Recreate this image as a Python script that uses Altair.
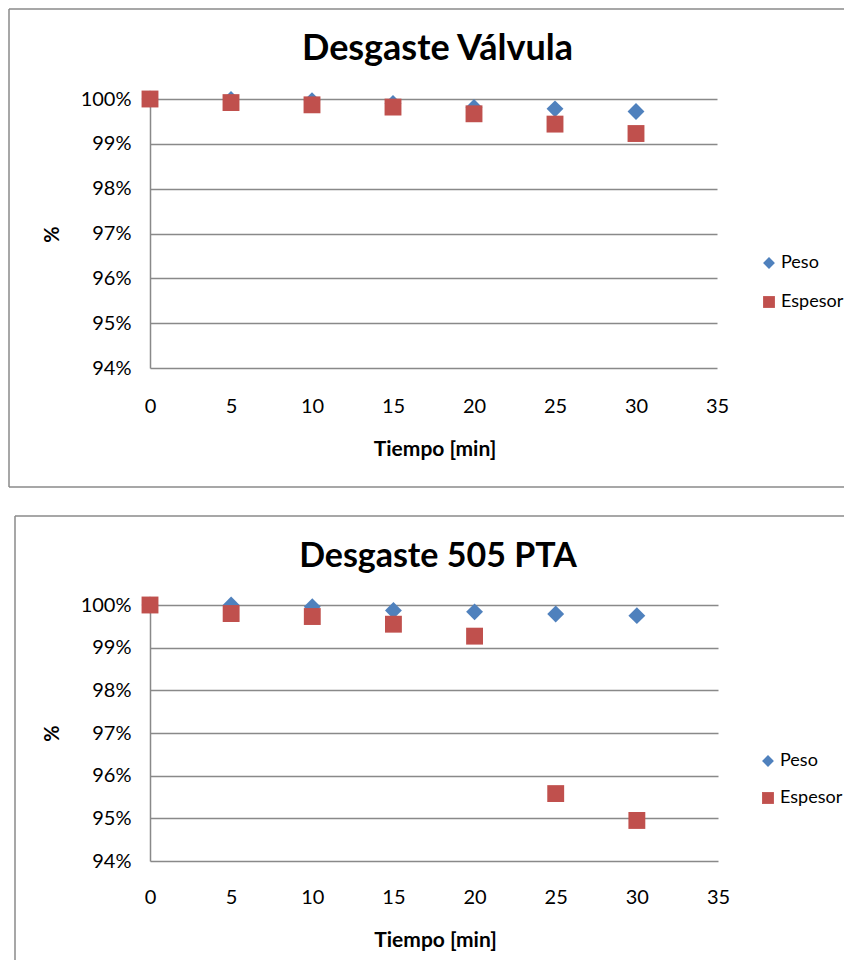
import altair as alt
import pandas as pd

# ---- data ----
tiempo = [0, 5, 10, 15, 20, 25, 30]
series = ["Peso", "Espesor"]

valvula_peso = [100.0, 99.99, 99.96, 99.90, 99.81, 99.78, 99.72]
valvula_espesor = [100.0, 99.92, 99.87, 99.82, 99.67, 99.44, 99.23]

pta_peso = [100.0, 100.0, 99.96, 99.87, 99.84, 99.79, 99.75]
pta_espesor = [100.0, 99.80, 99.73, 99.55, 99.27, 95.58, 94.95]

titles = ["Desgaste Válvula", "Desgaste 505 PTA"]
x_ticks = [0, 5, 10, 15, 20, 25, 30, 35]
y_ticks = [94, 95, 96, 97, 98, 99, 100]

FONT = "Lato"
BLUE, RED = "#4F81BD", "#C0504D"
GRID = "#898989"
BORDER = "#8A8A8A"


def make_df(peso, espesor):
    rows = []
    for t, v in zip(tiempo, peso):
        rows.append({"Tiempo": t, "Valor": v, "Serie": "Peso"})
    for t, v in zip(tiempo, espesor):
        rows.append({"Tiempo": t, "Valor": v, "Serie": "Espesor"})
    return pd.DataFrame(rows)


one = alt.Data(values=[{"k": 1}])


def hrule(x, x2, y, color=BORDER, width=1.5):
    return alt.Chart(one).mark_rule(color=color, strokeWidth=width).encode(
        x=alt.value(x), x2=alt.value(x2), y=alt.value(y))


def vrule(x, y, y2, color=BORDER, width=1.5):
    return alt.Chart(one).mark_rule(color=color, strokeWidth=width).encode(
        x=alt.value(x), y=alt.value(y), y2=alt.value(y2))


def panel(df, title, title_size, title_y, w, h, left, top, bottom, right,
          xlab_pad, xtitle_y, ytitle_y, leg_x, leg_y, leg_pad,
          draw_bottom=True, border_left=None):
    legend = alt.Legend(title=None, orient="none", legendX=leg_x, legendY=leg_y,
                        labelFont=FONT, labelFontSize=18, labelColor="black",
                        symbolSize=140, symbolStrokeWidth=0, symbolOpacity=1,
                        rowPadding=leg_pad, labelOffset=3, padding=0)
    pts = alt.Chart(df).mark_point(filled=True, opacity=1, strokeWidth=0, size=285).encode(
        x=alt.X("Tiempo:Q",
                scale=alt.Scale(domain=[0, 35], nice=False, zero=False),
                axis=alt.Axis(values=x_ticks, title="Tiempo [min]", grid=False,
                              domain=False, ticks=False, tickSize=0,
                              labelPadding=xlab_pad, labelBaseline="middle",
                              labelFont=FONT, labelFontSize=20, labelColor="black",
                              labelFlush=False, labelOverlap=False,
                              titleFont=FONT, titleFontSize=21, titleFontWeight="bold",
                              titleColor="black", titleX=w / 2 + 1, titleY=xtitle_y,
                              titleAlign="center", titleBaseline="middle")),
        y=alt.Y("Valor:Q",
                scale=alt.Scale(domain=[94, 100], nice=False, zero=False),
                axis=alt.Axis(values=y_ticks, labelExpr="datum.value + '%'", title="%",
                              grid=True, gridColor=GRID, gridWidth=1.5,
                              domain=True, domainColor=GRID, domainWidth=1.5,
                              ticks=False, tickSize=0, labelPadding=19,
                              labelFont=FONT, labelFontSize=20, labelColor="black",
                              labelOverlap=False,
                              titleFont=FONT, titleFontSize=20, titleFontWeight="bold",
                              titleColor="black", titleAngle=270, titleX=-98,
                              titleY=ytitle_y, titleAlign="center",
                              titleBaseline="middle")),
        color=alt.Color("Serie:N", scale=alt.Scale(domain=series, range=[BLUE, RED]),
                        legend=legend),
        shape=alt.Shape("Serie:N", scale=alt.Scale(domain=series, range=["diamond", "square"]),
                        legend=legend),
    )
    ttl = alt.Chart(one).mark_text(text=title, font=FONT, fontSize=title_size,
                                   fontWeight="bold", color="black", align="center",
                                   baseline="middle").encode(
        x=alt.value(w / 2 + 4), y=alt.value(title_y))
    layers = [hrule(left, right, top), vrule(left, top, bottom)]
    if draw_bottom:
        layers.append(hrule(left, right, bottom))
    if border_left is not None:
        layers.append(vrule(border_left, top, top + 10, color="white", width=1))
    layers += [pts, ttl]
    return alt.layer(*layers).properties(width=w, height=h)


p1 = panel(make_df(valvula_peso, valvula_espesor), titles[0], 36, -50, 567, 269,
           left=-141, top=-90, bottom=388, right=694,
           xlab_pad=38, xtitle_y=81, ytitle_y=135,
           leg_x=610, leg_y=155, leg_pad=21)

p2 = panel(make_df(pta_peso, pta_espesor), titles[1], 34, -48, 568, 256,
           left=-135, top=-89, bottom=355, right=694,
           xlab_pad=36, xtitle_y=79, ytitle_y=128,
           leg_x=609, leg_y=147, leg_pad=19, draw_bottom=False, border_left=-141)

chart = alt.vconcat(p1, p2, spacing=27).resolve_scale(
    color="independent", shape="independent"
).resolve_legend(color="independent", shape="independent").properties(
    padding=0
).configure_view(stroke=None)

chart.save("out.html", embed_options={"renderer": "svg", "actions": False})
